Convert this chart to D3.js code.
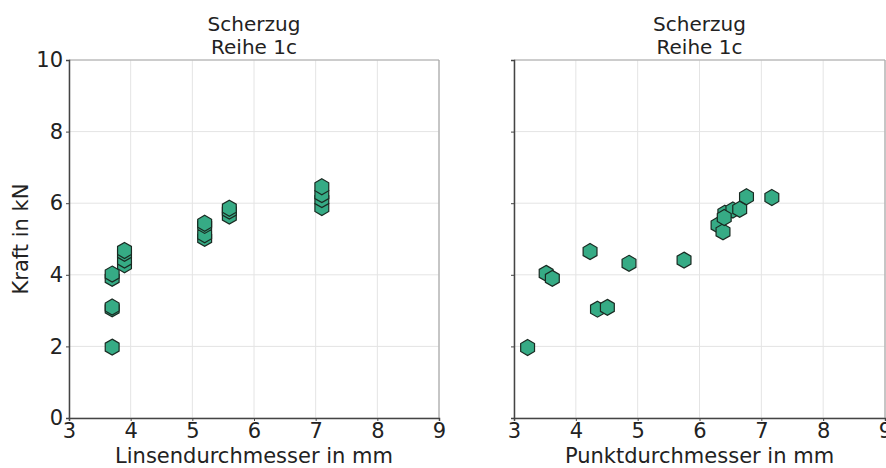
<!DOCTYPE html>
<html>
<head>
<meta charset="utf-8">
<script src="https://cdn.jsdelivr.net/npm/d3@7"></script>
<style>
  body { margin: 0; background: #fff; }
  text { font-family: "DejaVu Sans", sans-serif; fill: #222; }
</style>
</head>
<body>
<div id="chart"></div>
<script>
(function() {
    var width = 886,
        height = 468;

    // Linsendurchmesser (mm) vs. Kraft (kN)
    var linseX = [3.7, 3.7, 3.7, 3.7, 3.7, 3.9, 3.9, 3.9, 3.9, 5.2, 5.2, 5.2, 5.2, 5.6, 5.6, 5.6, 7.1, 7.1, 7.1, 7.1]
    var linseY = [1.98, 3.05, 3.1, 3.9, 4.02, 4.28, 4.41, 4.6, 4.68, 5.02, 5.12, 5.38, 5.44, 5.64, 5.78, 5.86, 5.88, 6.1, 6.24, 6.46]

    // Punktdurchmesser (mm) vs. Kraft (kN)
    var punktX = [3.22, 3.52, 3.62, 4.23, 4.35, 4.51, 4.86, 5.75, 6.30, 6.38, 6.41, 6.54, 6.65, 6.76, 7.17, 6.4]
    var punktY = [1.97, 4.04, 3.9, 4.65, 3.04, 3.09, 4.32, 4.41, 5.39, 5.2, 5.72, 5.81, 5.83, 6.18, 6.16, 5.6]

    var xTicks = [3, 4, 5, 6, 7, 8, 9]
    var yTicks = [0, 2, 4, 6, 8, 10]

    var svg = d3.select("#chart")
        .append("svg")
        .attr("width", width)
        .attr("height", height)

    var top = 60, bottom = 418

    var y = d3.scaleLinear().domain([0, 10]).range([bottom, top])

    function panel(left, right, xs, ys, xLabel, showY) {
        var x = d3.scaleLinear().domain([3, 9]).range([left, right])
        var g = svg.append("g")

        // grid
        g.selectAll(".vgrid")
            .data(xTicks)
            .enter().append("line")
            .attr("x1", function(d) { return x(d) })
            .attr("x2", function(d) { return x(d) })
            .attr("y1", top)
            .attr("y2", bottom)
            .attr("stroke", "#e4e4e4")
            .attr("stroke-width", 1)

        g.selectAll(".hgrid")
            .data(yTicks)
            .enter().append("line")
            .attr("x1", left)
            .attr("x2", right)
            .attr("y1", function(d) { return y(d) })
            .attr("y2", function(d) { return y(d) })
            .attr("stroke", "#e4e4e4")
            .attr("stroke-width", 1)

        // frame: top/right light, left/bottom dark
        g.append("line").attr("x1", left).attr("x2", right).attr("y1", top).attr("y2", top)
            .attr("stroke", "#a8a8a8").attr("stroke-width", 1.2)
        g.append("line").attr("x1", right).attr("x2", right).attr("y1", top).attr("y2", bottom)
            .attr("stroke", "#a8a8a8").attr("stroke-width", 1.2)

        var xAxis = g.append("g")
            .attr("transform", "translate(0," + bottom + ")")
            .call(d3.axisBottom(x).tickValues(xTicks).tickSize(3).tickPadding(2).tickFormat(d3.format("d")))
        xAxis.select(".domain").attr("stroke", "#444").attr("stroke-width", 1.5)
        xAxis.selectAll("line").attr("stroke", "#444")
        xAxis.selectAll("text").style("font-size", "21px").attr("fill", "#222")

        var yAxis = g.append("g")
            .attr("transform", "translate(" + left + ",0)")
            .call(d3.axisLeft(y).tickValues(yTicks).tickSize(3).tickPadding(3)
                .tickFormat(showY ? d3.format("d") : ""))
        yAxis.select(".domain").attr("stroke", "#444").attr("stroke-width", 1.5)
        yAxis.selectAll("line").attr("stroke", "#444")
        yAxis.selectAll("text").style("font-size", "21px").attr("fill", "#222")

        // titles
        var cx = (left + right) / 2
        g.append("text").attr("x", cx).attr("y", 31).attr("text-anchor", "middle")
            .style("font-size", "20px").text("Scherzug")
        g.append("text").attr("x", cx).attr("y", 54).attr("text-anchor", "middle")
            .style("font-size", "20px").text("Reihe 1c")

        g.append("text").attr("x", cx).attr("y", 463).attr("text-anchor", "middle")
            .style("font-size", "21px").text(xLabel)

        // hexagon markers
        var hex = d3.symbol().type({
            draw: function(context, size) {
                var r = Math.sqrt(size)
                for (var i = 0; i < 6; i++) {
                    var a = Math.PI / 3 * i - Math.PI / 2
                    if (i === 0) context.moveTo(r * Math.cos(a), r * Math.sin(a))
                    else context.lineTo(r * Math.cos(a), r * Math.sin(a))
                }
                context.closePath()
            }
        }).size(64)

        g.selectAll(".pt")
            .data(xs.map(function(v, i) { return [v, ys[i]] }))
            .enter().append("path")
            .attr("class", "pt")
            .attr("d", hex)
            .attr("transform", function(d) { return "translate(" + x(d[0]) + "," + y(d[1]) + ")" })
            .attr("fill", "#36ab85")
            .attr("stroke", "#1a2a22")
            .attr("stroke-width", 1.2)
    }

    panel(69, 439, linseX, linseY, "Linsendurchmesser in mm", true)
    panel(514, 885, punktX, punktY, "Punktdurchmesser in mm", false)

    svg.append("text")
        .attr("transform", "translate(28," + ((top + bottom) / 2) + ") rotate(-90)")
        .attr("text-anchor", "middle")
        .style("font-size", "21px")
        .text("Kraft in kN")
})();
</script>
</body>
</html>
